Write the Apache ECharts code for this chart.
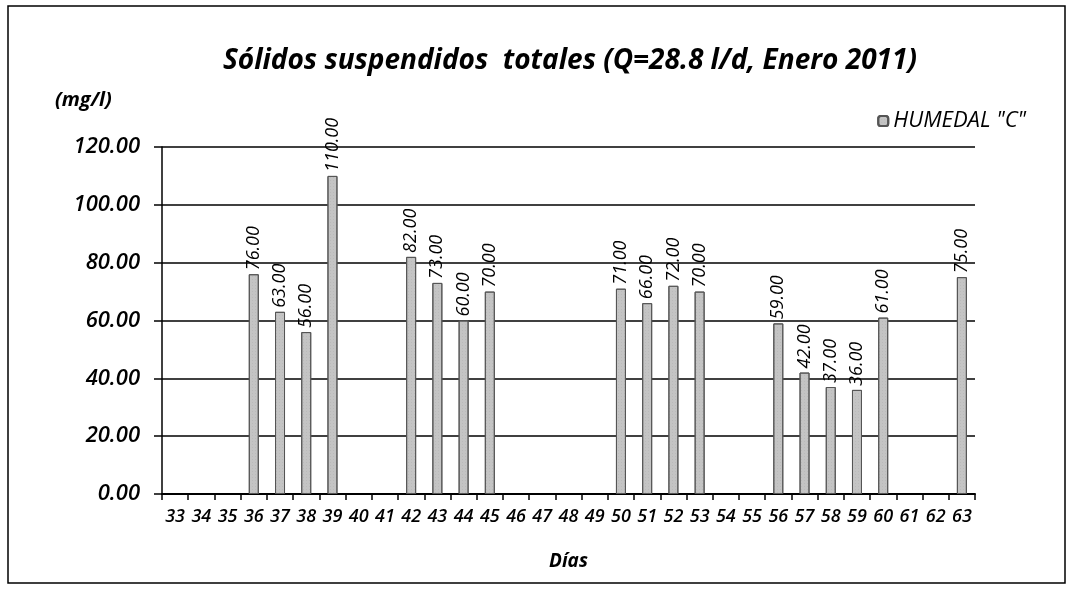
<!DOCTYPE html>
<html>
<head>
<meta charset="utf-8">
<script src="https://cdn.jsdelivr.net/npm/echarts@6/dist/echarts.min.js"></script>
<style>
  html, body { margin: 0; padding: 0; background: #fff; }
  #chart { width: 1071px; height: 593px; }
</style>
</head>
<body>
<div id="chart"></div>
<script>
'use strict';
// days 33..63, only some have measurements
const days = ['33','34','35','36','37','38','39','40','41','42','43','44','45','46','47','48',
  '49','50','51','52','53','54','55','56','57','58','59','60','61','62','63'];
const humedalC = [null, null, null, 76, 63, 56, 110, null, null, 82, 73, 60, 70, null, null, null,
  null, 71, 66, 72, 70, null, null, 59, 42, 37, 36, 61, null, null, 75];
const yTicks = [0, 20, 40, 60, 80, 100, 120];

const FONT = '"Open Sans", "DejaVu Sans", sans-serif';
const chart = echarts.init(document.getElementById('chart'));
chart.setOption({
  animation: false,
  backgroundColor: '#fff',
  textStyle: { fontFamily: FONT, color: '#000' },
  title: {
    text: 'Sólidos suspendidos  totales (Q=28.8 l/d, Enero 2011)',
    left: 218, top: 42,
    textStyle: { fontFamily: FONT, fontSize: 28, fontWeight: 'bold', fontStyle: 'italic', color: '#000' },
  },
  graphic: [
    { type: 'rect', shape: { x: 8, y: 6, width: 1057, height: 577 },
      style: { fill: 'none', stroke: '#000', lineWidth: 1.5 }, silent: true },
    { type: 'text', left: 55, top: 90,
      style: { text: '(mg/l)', fontFamily: FONT, fontSize: 20, fontWeight: 'bold', fontStyle: 'italic', fill: '#000' } },
  ],
  legend: {
    right: 40, top: 105, itemWidth: 10, itemHeight: 10, itemGap: 5,
    textStyle: { fontFamily: FONT, fontSize: 22, fontStyle: 'italic', color: '#000' },
    data: ['HUMEDAL "C"'],
  },
  grid: { left: 162, right: 96, top: 147, bottom: 99, containLabel: false },
  xAxis: {
    type: 'category', data: days,
    name: 'Días', nameLocation: 'middle', nameGap: 58,
    nameTextStyle: { fontFamily: FONT, fontSize: 19, fontWeight: 'bold', fontStyle: 'italic', color: '#000' },
    axisLine: { lineStyle: { color: '#000', width: 2 } },
    axisTick: { show: true, alignWithLabel: false, length: 6, lineStyle: { color: '#000', width: 1.5 } },
    axisLabel: { fontFamily: FONT, fontSize: 18, fontWeight: 600, fontStyle: 'italic', color: '#000', margin: 14, interval: 0 },
  },
  yAxis: {
    type: 'value', min: yTicks[0], max: yTicks[yTicks.length - 1], interval: 20,
    axisLine: { show: true, lineStyle: { color: '#000', width: 1.5 } },
    axisTick: { show: true, length: 8, lineStyle: { color: '#000', width: 1.5 } },
    axisLabel: { fontFamily: FONT, fontSize: 22, fontWeight: 600, fontStyle: 'italic', color: '#000', margin: 22,
      formatter: (v) => v.toFixed(2) },
    splitLine: { lineStyle: { color: '#000', width: 1.5 } },
  },
  series: [{
    name: 'HUMEDAL "C"', type: 'bar', data: humedalC, barWidth: 10,
    itemStyle: { color: '#c4c4c4', borderColor: '#555', borderWidth: 1,
      decal: { symbol: 'rect', symbolSize: 0.4, color: 'rgba(90,90,90,0.45)', dashArrayX: [1, 2], dashArrayY: [1, 2] } },
    label: {
      show: true, position: 'top', rotate: 90, align: 'left', verticalAlign: 'middle', distance: 4,
      fontFamily: FONT, fontSize: 18, fontStyle: 'italic', color: '#000',
      formatter: (p) => p.value.toFixed(2),
    },
  }],
});
</script>
</body>
</html>
